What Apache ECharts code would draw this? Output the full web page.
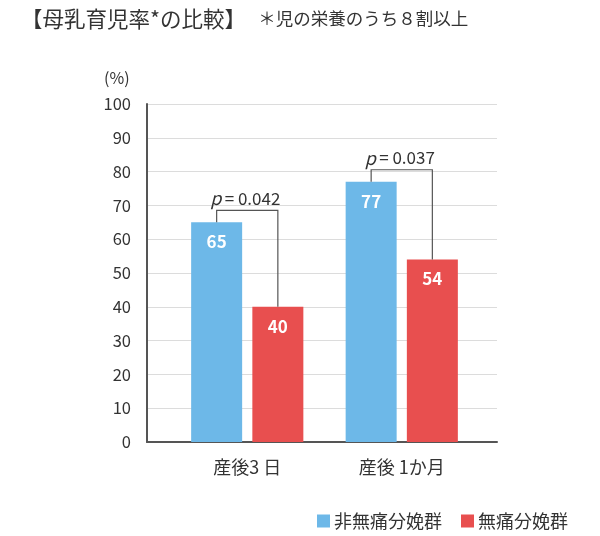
<!DOCTYPE html>
<html><head><meta charset="utf-8">
<script src="https://cdn.jsdelivr.net/npm/echarts@6/dist/echarts.min.js"></script>
<style>html,body{margin:0;padding:0;background:#fff}#c{width:600px;height:536px}</style>
</head><body><div id="c"></div>
<script>
const categories = ['産後3 日', '産後 1か月'];
const nonEpidural = [65, 77];
const epidural = [40, 54];
const pValues = ['0.042', '0.037'];
const seriesNames = ['非無痛分娩群', '無痛分娩群'];
const yMin = 0, yMax = 100, yInterval = 10;

const FONT = '"Noto Sans CJK JP", "Noto Sans", sans-serif';
const BLUE = '#6db8e8';
const RED = '#e84f4f';
const BAR_W = 51;
const BAR_GAP = '20%';
const OFF = BAR_W / 2 + BAR_W * 0.2 / 2;

const chart = echarts.init(document.getElementById('c'));
chart.setOption({
  animation: false,
  textStyle: { fontFamily: FONT },
  title: {
    left: 16, top: 3,
    text: '{a|【母乳育児率*の比較】}   {b|＊児の栄養のうち８割以上}',
    textStyle: {
      rich: {
        a: { fontSize: 21.5, color: '#333', fontFamily: FONT, fontWeight: 'normal' },
        b: { fontSize: 17.5, color: '#333', fontFamily: FONT, fontWeight: 'normal' }
      }
    }
  },
  graphic: [{ type: 'text', left: 104, top: 70, style: { text: '(%)', fontSize: 16, fill: '#333', fontFamily: FONT } }],
  legend: {
    right: 27, top: 507, itemWidth: 13, itemHeight: 13, itemGap: 19,
    icon: 'rect',
    textStyle: { fontSize: 18, color: '#333', fontFamily: FONT, padding: [0, 0, 0, -1] },
    data: seriesNames
  },
  grid: [
    { left: 147, right: 103, top: 104, bottom: 94 },
    { left: 170, right: 121, top: 104, bottom: 94 }
  ],
  xAxis: [
    { type: 'category', gridIndex: 0, data: categories, axisLabel: { show: false }, axisTick: { show: false },
      axisLine: { lineStyle: { color: '#555', width: 2 } } },
    { type: 'category', gridIndex: 1, data: categories, axisTick: { show: false }, axisLine: { show: false },
      axisLabel: { fontSize: 18, color: '#333', margin: 16, fontFamily: FONT } }
  ],
  yAxis: [
    { type: 'value', gridIndex: 0, min: yMin, max: yMax, interval: yInterval,
      axisLine: { show: true, lineStyle: { color: '#555', width: 2 } }, axisTick: { show: false },
      axisLabel: { fontSize: 16.5, color: '#333', margin: 16, fontFamily: FONT } ,
      splitLine: { lineStyle: { color: '#dcdcdc', width: 1 } } },
    { type: 'value', gridIndex: 1, min: yMin, max: yMax, interval: yInterval, show: false, splitLine: { show: false } }
  ],
  series: [
    { name: seriesNames[0], type: 'bar', xAxisIndex: 1, yAxisIndex: 1, data: nonEpidural, barWidth: BAR_W, barGap: BAR_GAP,
      itemStyle: { color: BLUE },
      label: { show: true, position: 'insideTop', distance: 11, color: '#fff', fontSize: 17, fontWeight: 'bold', fontFamily: FONT } },
    { name: seriesNames[1], type: 'bar', xAxisIndex: 1, yAxisIndex: 1, data: epidural, barWidth: BAR_W, barGap: BAR_GAP,
      itemStyle: { color: RED },
      label: { show: true, position: 'insideTop', distance: 11, color: '#fff', fontSize: 17, fontWeight: 'bold', fontFamily: FONT } },
    { type: 'custom', xAxisIndex: 1, yAxisIndex: 1, silent: true, z: 5,
      data: categories.map((c, i) => [i, nonEpidural[i], epidural[i]]),
      encode: { x: 0, y: 1 },
      renderItem: function (params, api) {
        const i = api.value(0);
        const xc = api.coord([i, 0])[0];
        const yB = api.coord([i, api.value(1)])[1];
        const yR = api.coord([i, api.value(2)])[1];
        const yTop = Math.min(yB, yR) - 12;
        return {
          type: 'group',
          children: [
            { type: 'polyline', shape: { points: [[xc - OFF, yB], [xc - OFF, yTop], [xc + OFF, yTop], [xc + OFF, yR]] },
              style: { stroke: '#555', lineWidth: 1.2, fill: null } },
            { type: 'text', x: xc - 2, y: yTop - 12,
              style: { text: '{i|p} {n|= ' + pValues[params.dataIndex] + '}', align: 'center', verticalAlign: 'middle',
                rich: { i: { fontSize: 18, fontStyle: 'italic', fill: '#333', fontFamily: FONT },
                        n: { fontSize: 17, fill: '#333', fontFamily: FONT } } } }
          ]
        };
      }
    }
  ]
});
</script></body></html>
